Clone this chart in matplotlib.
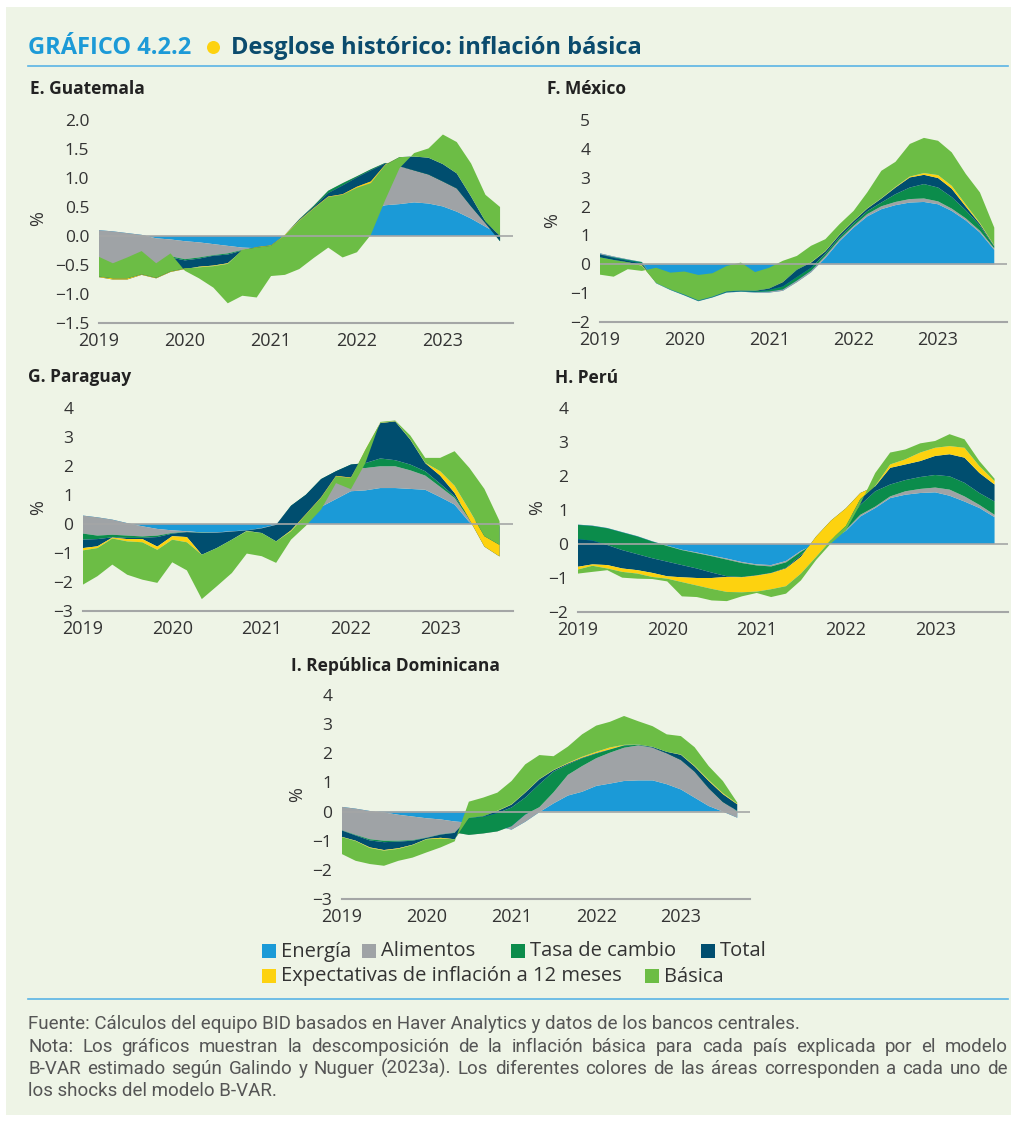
import pandas as pd
import matplotlib.pyplot as plt
import matplotlib.dates as mdates
from matplotlib.patches import Rectangle, Ellipse
from matplotlib.lines import Line2D
from matplotlib.ticker import MultipleLocator, FuncFormatter

plt.rcParams['font.family'] = ['Open Sans', 'DejaVu Sans']

W, H = 1017, 1121
FONDO = '#eef4e6'
GRIS_EJE = '#a4a6a6'
TEXTO = '#333333'
AZUL_LINEA = '#5ab4e5'

# observaciones bimestrales, enero 2019 - septiembre 2023
fechas = pd.date_range('2019-01-01', '2023-09-01', freq='2MS')

componentes = ['Energía', 'Alimentos', 'Tasa de cambio', 'Total',
               'Expectativas de inflación a 12 meses', 'Básica']
colores = ['#1b9ad7', '#9fa3a6', '#0b8c4b', '#004e6f', '#fdd20f', '#6cbd45']

# E. Guatemala
gt_energia = [0.10, 0.08, 0.05, 0.02, -0.04, -0.06, -0.09, -0.11, -0.14, -0.17, -0.20, -0.21, -0.22, -0.22, -0.20,
              -0.15, -0.05, 0.10, 0.30, 0.45, 0.53, 0.55, 0.58, 0.56, 0.51, 0.42, 0.30, 0.16, 0.02]
gt_alimentos = [-0.51, -0.60, -0.47, -0.33, -0.48, -0.29, -0.31, -0.26, -0.19, -0.13, -0.04, 0.00, 0.04, 0.24, 0.49,
                0.67, 0.83, 0.81, 0.73, 0.70, 0.73, 0.65, 0.56, 0.51, 0.44, 0.41, 0.23, 0.10, -0.04]
gt_cambio = [-0.02, -0.02, -0.02, -0.02, -0.02, -0.02, -0.02, -0.02, -0.01, -0.02, -0.01, 0.00, 0.00, 0.00, -0.01,
             -0.02, -0.04, -0.04, -0.02, -0.02, -0.01, 0.00, -0.01, -0.01, -0.01, -0.01, -0.02, -0.04, -0.07]
gt_total = [-0.28, -0.21, -0.31, -0.34, -0.19, -0.25, -0.15, -0.14, -0.17, -0.15, 0.00, 0.02, 0.02, 0.00, -0.01,
            -0.02, -0.06, -0.15, -0.16, -0.19, -0.02, 0.16, 0.24, 0.29, 0.30, 0.26, 0.17, 0.03, 0.09]
gt_expect = [0.01, 0.02, 0.02, 0.01, 0.01, 0.01, 0.01, -0.01, -0.01, -0.01, 0.01, -0.01, -0.01, -0.01, -0.01,
             -0.01, -0.01, -0.01, -0.02, -0.03, -0.01, 0.00, 0.00, 0.00, 0.00, 0.00, 0.00, 0.00, 0.00]
gt_basica = [0.34, 0.26, 0.36, 0.40, 0.25, 0.31, -0.04, -0.19, -0.37, -0.68, -0.79, -0.86, -0.52, -0.68, -0.83,
             -0.85, -0.87, -1.08, -1.11, -0.89, -0.60, -0.19, 0.06, 0.16, 0.51, 0.54, 0.57, 0.46, 0.50]

# F. México
mx_energia = [0.38, 0.27, 0.17, 0.08, -0.66, -0.89, -1.08, -1.28, -1.15, -0.98, -0.95, -0.98, -0.98, -0.92, -0.62,
              -0.28, 0.22, 0.80, 1.27, 1.66, 1.91, 2.05, 2.14, 2.16, 2.08, 1.85, 1.52, 1.10, 0.50]
mx_alimentos = [-0.04, -0.03, -0.02, -0.01, 0.01, 0.01, 0.01, 0.01, 0.01, 0.01, 0.01, 0.02, 0.04, 0.05, 0.06,
                0.06, 0.07, 0.06, 0.06, 0.08, 0.10, 0.11, 0.12, 0.12, 0.10, 0.08, 0.07, 0.06, 0.05]
mx_cambio = [0.00, -0.02, -0.03, -0.04, 0.00, 0.01, 0.01, 0.01, 0.01, 0.01, 0.01, 0.02, 0.05, 0.10, 0.12,
             0.10, 0.08, 0.08, 0.09, 0.10, 0.13, 0.27, 0.40, 0.50, 0.48, 0.40, 0.28, 0.18, 0.07]
mx_total = [-0.10, -0.07, -0.05, -0.06, 0.00, 0.00, 0.01, 0.01, 0.01, 0.02, 0.02, 0.02, 0.05, 0.15, 0.25,
            0.18, 0.08, 0.08, 0.08, 0.09, 0.14, 0.23, 0.35, 0.32, 0.33, 0.29, 0.13, 0.06, 0.02]
mx_expect = [0.00, 0.00, -0.01, -0.02, 0.00, 0.00, 0.00, 0.00, 0.00, 0.00, 0.01, 0.01, 0.01, 0.02, 0.01,
             0.01, 0.01, 0.01, 0.01, 0.01, 0.01, 0.02, 0.03, 0.06, 0.10, 0.10, 0.07, 0.03, 0.01]
mx_basica = [-0.60, -0.58, -0.23, -0.18, 0.53, 0.58, 0.80, 0.88, 0.81, 0.88, 0.96, 0.64, 0.71, 0.72, 0.47,
             0.57, 0.41, 0.36, 0.34, 0.55, 0.95, 0.87, 1.13, 1.22, 1.19, 1.16, 1.06, 1.06, 0.62]

# G. Paraguay
py_energia = [0.29, 0.23, 0.15, 0.03, -0.08, -0.17, -0.22, -0.25, -0.29, -0.29, -0.25, -0.22, -0.14, -0.02, 0.00,
              0.05, 0.59, 0.86, 1.13, 1.16, 1.24, 1.24, 1.21, 1.18, 0.93, 0.67, 0.06, -0.03, -0.03]
py_alimentos = [-0.62, -0.63, -0.52, -0.43, -0.35, -0.23, -0.09, -0.02, -0.01, -0.01, -0.01, 0.00, -0.01, -0.01, 0.60,
                0.90, 0.91, 0.92, 0.82, 0.77, 0.75, 0.75, 0.64, 0.49, 0.35, 0.23, 0.09, -0.02, -0.03]
py_cambio = [-0.21, -0.12, -0.09, -0.08, -0.05, -0.05, -0.02, -0.01, -0.01, 0.00, 0.00, 0.00, 0.00, 0.00, 0.03,
             0.06, 0.05, 0.04, 0.10, 0.17, 0.27, 0.21, 0.20, 0.15, 0.11, 0.05, 0.11, -0.05, -0.04]
py_total = [-0.29, -0.25, -0.01, -0.04, -0.04, -0.33, -0.09, -0.17, -0.75, -0.53, -0.28, -0.02, -0.16, -0.57, -0.85,
            -0.67, -0.63, -0.16, -0.45, 0.42, 1.22, 1.34, 0.86, 0.28, 0.28, 0.12, -0.11, -0.68, -1.02]
py_expect = [-0.08, -0.06, -0.03, -0.08, -0.11, -0.11, -0.12, -0.18, 0.00, 0.00, 0.00, -0.01, 0.00, 0.00, -0.03,
             -0.02, -0.02, -0.02, -0.02, 0.04, 0.01, 0.01, 0.01, 0.01, 0.15, 0.25, 0.32, 0.36, 0.40]
py_basica = [-1.18, -0.97, -0.90, -1.15, -1.29, -1.14, -0.78, -0.97, -1.53, -1.32, -1.15, -0.77, -0.80, -0.74, -0.29,
             -0.38, -0.40, -0.23, -0.38, -0.46, 0.03, 0.02, 0.13, 0.17, 0.46, 1.19, 1.46, 1.63, 0.82]

# H. Perú
pe_energia = [0.57, 0.54, 0.47, 0.35, 0.23, 0.08, -0.05, -0.17, -0.25, -0.34, -0.43, -0.53, -0.60, -0.62, -0.50,
              -0.20, 0.00, 0.12, 0.39, 0.81, 1.06, 1.35, 1.45, 1.50, 1.52, 1.42, 1.25, 1.06, 0.79]
pe_alimentos = [-0.01, -0.01, -0.01, -0.01, -0.01, -0.01, -0.01, -0.01, -0.02, -0.02, -0.03, -0.03, -0.03, -0.04, -0.04,
                -0.03, 0.05, 0.03, 0.03, 0.05, 0.04, 0.05, 0.10, 0.12, 0.14, 0.18, 0.15, 0.09, 0.07]
pe_cambio = [-0.42, -0.43, -0.49, -0.52, -0.52, -0.49, -0.46, -0.44, -0.45, -0.48, -0.49, -0.41, -0.29, -0.19, -0.16,
             -0.10, 0.10, 0.15, 0.20, 0.29, 0.45, 0.35, 0.33, 0.35, 0.37, 0.39, 0.40, 0.35, 0.39]
pe_total = [-0.81, -0.70, -0.59, -0.54, -0.47, -0.43, -0.43, -0.36, -0.28, -0.16, -0.02, -0.01, -0.01, -0.01, -0.02,
            -0.05, 0.07, 0.39, 0.43, 0.35, 0.15, 0.49, 0.46, 0.47, 0.56, 0.65, 0.74, 0.59, 0.50]
pe_expect = [-0.08, -0.04, -0.10, -0.10, -0.10, -0.12, -0.07, -0.14, -0.22, -0.32, -0.44, -0.44, -0.47, -0.47, -0.52,
             -0.49, -0.60, -0.57, -0.52, -0.18, 0.01, 0.10, 0.15, 0.25, 0.24, 0.24, 0.29, 0.20, 0.10]
pe_basica = [-0.12, -0.18, -0.05, -0.17, -0.15, -0.06, -0.08, -0.42, -0.34, -0.34, -0.27, -0.12, -0.04, -0.23, -0.22,
             -0.20, -0.09, -0.10, -0.13, -0.14, 0.38, 0.35, 0.29, 0.27, 0.20, 0.35, 0.25, 0.15, 0.07]

# I. República Dominicana
rd_energia = [0.16, 0.10, 0.02, -0.03, -0.11, -0.17, -0.23, -0.27, -0.34, -0.38, -0.42, -0.50, -0.62, -0.35, -0.02,
              0.28, 0.55, 0.68, 0.88, 0.96, 1.05, 1.07, 1.07, 0.94, 0.76, 0.48, 0.19, 0.00, -0.21]
rd_alimentos = [-0.80, -0.90, -0.97, -0.97, -0.89, -0.81, -0.66, -0.51, -0.38, -0.42, -0.33, -0.18, 0.12, 0.25, 0.17,
                0.38, 0.71, 0.88, 0.95, 1.06, 1.14, 1.20, 1.12, 1.08, 1.03, 0.91, 0.63, 0.37, 0.21]
rd_cambio = [-0.01, -0.02, -0.04, -0.05, -0.03, -0.02, -0.01, -0.01, -0.01, 0.58, 0.57, 0.63, 0.64, 0.58, 0.79,
             0.71, 0.36, 0.27, 0.16, 0.11, 0.08, 0.02, 0.00, -0.02, -0.02, -0.02, -0.02, -0.04, 0.02]
rd_total = [-0.22, -0.18, -0.24, -0.27, -0.23, -0.14, -0.04, -0.11, -0.22, 0.00, 0.02, 0.07, 0.10, 0.17, 0.17,
            0.05, 0.03, 0.02, 0.02, 0.01, 0.01, 0.01, 0.03, 0.05, 0.18, 0.18, 0.25, 0.27, 0.23]
rd_expect = [-0.01, -0.01, -0.02, -0.02, -0.02, -0.01, -0.01, -0.03, 0.00, 0.00, 0.01, 0.01, 0.01, 0.01, 0.01,
             0.01, 0.02, 0.03, 0.04, 0.06, 0.01, 0.00, 0.00, 0.00, 0.01, 0.02, 0.03, 0.03, 0.02]
rd_basica = [-0.58, -0.68, -0.55, -0.52, -0.41, -0.43, -0.45, -0.30, -0.07, 0.56, 0.63, 0.62, 0.80, 0.96, 0.82,
             0.47, 0.56, 0.77, 0.90, 0.88, 0.99, 0.80, 0.71, 0.60, 0.63, 0.64, 0.48, 0.42, 0.04]

fig = plt.figure(figsize=(W / 100, H / 100), dpi=100)


def px(x, y):
    # pixeles (origen arriba a la izquierda) -> fracción de figura
    return x / W, 1 - y / H


fig.patches.append(Rectangle(px(6, 1115), 1005 / W, 1108 / H, transform=fig.transFigure,
                             facecolor=FONDO, edgecolor='none', zorder=-10))

# encabezado
fig.text(*px(28, 53.5), 'GRÁFICO 4.2.2', fontsize=17, fontweight='bold', color='#1c9ad7', va='baseline')
fig.patches.append(Ellipse(px(213.5, 47.5), 13 / W, 13 / H, transform=fig.transFigure,
                           facecolor='#fdd20f', edgecolor='none'))
fig.text(*px(231, 53.5), 'Desglose histórico: inflación básica', fontsize=17, fontweight='bold',
         color='#0b4b6d', va='baseline')
fig.add_artist(Line2D([28 / W, 1008 / W], [1 - 66 / H] * 2, color=AZUL_LINEA, lw=1.2))


def etiqueta(fmt):
    def f(v, _):
        if abs(v) < 1e-9:
            v = 0.0
        return fmt.format(v).replace('-', '\u2212')
    return FuncFormatter(f)


def panel(titulo, caja, ylim, paso, fmt, pos_titulo, pos_pct, datos):
    x0, x1, y0, y1 = caja
    ax = fig.add_axes([x0 / W, 1 - y1 / H, (x1 - x0) / W, (y1 - y0) / H])
    ax.set_facecolor('none')
    ax.stackplot(fechas, *datos, colors=colores, linewidth=0)
    ax.axhline(0, color=GRIS_EJE, lw=1.2, zorder=3)
    ax.set_xlim(pd.Timestamp('2019-01-01'), pd.Timestamp('2023-10-26'))
    ax.set_ylim(*ylim)
    ax.yaxis.set_major_locator(MultipleLocator(paso))
    ax.yaxis.set_major_formatter(etiqueta(fmt))
    ax.xaxis.set_major_locator(mdates.YearLocator())
    ax.xaxis.set_major_formatter(mdates.DateFormatter('%Y'))
    for s in ('top', 'right', 'left'):
        ax.spines[s].set_visible(False)
    ax.spines['bottom'].set_color(GRIS_EJE)
    ax.spines['bottom'].set_linewidth(1.5)
    ax.tick_params(axis='both', length=0, labelcolor=TEXTO)
    ax.tick_params(axis='y', pad=7, labelsize=12.5)
    ax.tick_params(axis='x', pad=6.5, labelsize=13)
    fig.text(*px(*pos_titulo), titulo, fontsize=12.5, fontweight='bold', color='#222222', va='baseline')
    fig.text(*px(*pos_pct), '%', fontsize=13, color=TEXTO, rotation=90, ha='center', va='center')
    return ax


panel('E. Guatemala', (99, 513, 120, 323), (-1.5, 2.0), 0.5, '{:.1f}', (30, 94), (38, 219),
      [gt_energia, gt_alimentos, gt_cambio, gt_total, gt_expect, gt_basica])
panel('F. México', (600, 1007, 120, 322), (-2, 5), 1, '{:.0f}', (547, 93.5), (552, 221),
      [mx_energia, mx_alimentos, mx_cambio, mx_total, mx_expect, mx_basica])
panel('G. Paraguay', (83, 513, 408, 611), (-3, 4), 1, '{:.0f}', (28, 382), (38, 508),
      [py_energia, py_alimentos, py_cambio, py_total, py_expect, py_basica])
panel('H. Perú', (578, 1008, 408, 612), (-2, 4), 1, '{:.0f}', (555, 383), (537, 508),
      [pe_energia, pe_alimentos, pe_cambio, pe_total, pe_expect, pe_basica])
panel('I. República Dominicana', (342, 750, 695, 899), (-3, 4), 1, '{:.0f}', (291, 671), (297, 795),
      [rd_energia, rd_alimentos, rd_cambio, rd_total, rd_expect, rd_basica])

# leyenda en dos filas
leyenda = [(262, 956.5, 0), (362, 956.5, 1), (511, 956.5, 2), (701, 956.5, 3),
           (262, 981.5, 4), (645, 981.5, 5)]
for x, y, i in leyenda:
    fig.patches.append(Rectangle(px(x, y + 1), 14 / W, 14 / H, transform=fig.transFigure,
                                 facecolor=colores[i], edgecolor='none'))
    fig.text(*px(x + 19, y), componentes[i], fontsize=14.5, color=TEXTO, va='baseline')

# pie
fig.add_artist(Line2D([28 / W, 1008 / W], [1 - 999 / H] * 2, color=AZUL_LINEA, lw=1.2))

pie_kw = dict(fontsize=13.5, color='#555555', va='baseline', family=['Roboto', 'DejaVu Sans'])
renderer = fig.canvas.get_renderer()


def justificado(y, texto, x0=28, x1=1008):
    palabras = texto.split()
    textos = [fig.text(0, 1 - y / H, p, **pie_kw) for p in palabras]
    anchos = [t.get_window_extent(renderer).width for t in textos]
    hueco = (x1 - x0 - sum(anchos)) / (len(palabras) - 1)
    x = x0
    for t, a in zip(textos, anchos):
        t.set_x(x / W)
        x += a + hueco


fig.text(*px(28, 1029), 'Fuente: Cálculos del equipo BID basados en Haver Analytics y datos de los bancos centrales.',
         **pie_kw)
justificado(1051.5, 'Nota: Los gráficos muestran la descomposición de la inflación básica para cada país '
                    'explicada por el modelo')
justificado(1074, 'B-VAR estimado según Galindo y Nuguer (2023a). Los diferentes colores de las áreas '
                  'corresponden a cada uno de')
fig.text(*px(28, 1096), 'los shocks del modelo B-VAR.', **pie_kw)

fig.savefig('out.png', dpi=100, facecolor='white')
